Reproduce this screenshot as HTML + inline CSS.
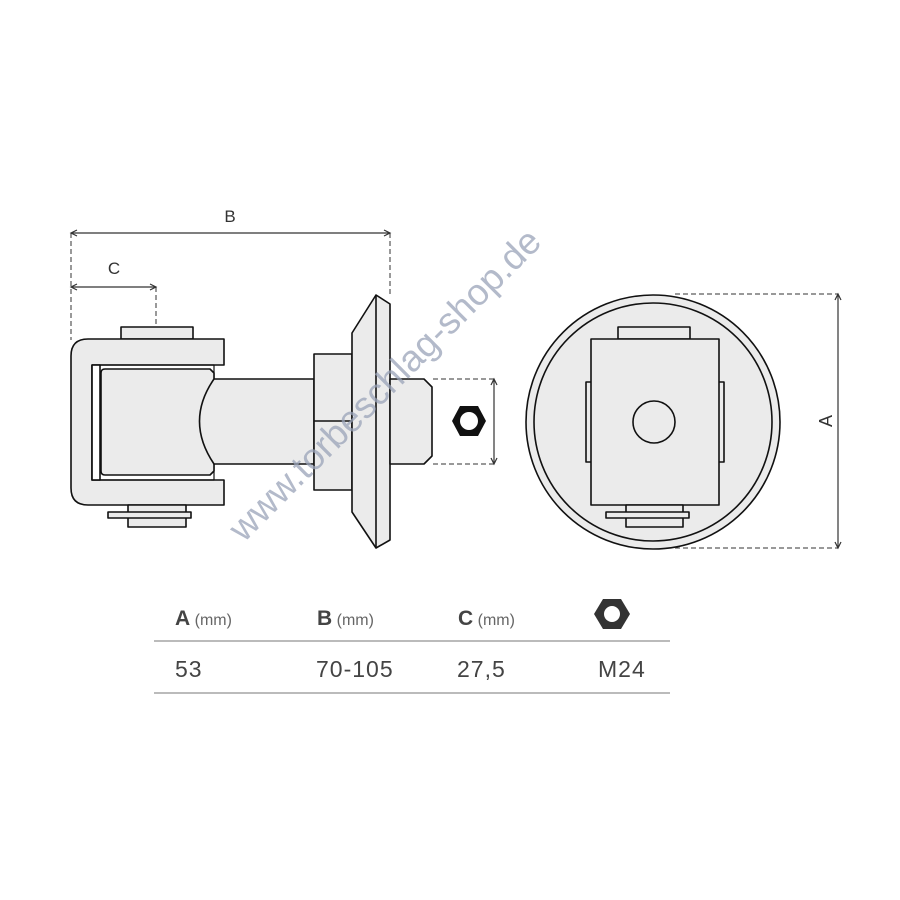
<!DOCTYPE html>
<html><head><meta charset="utf-8"><style>
html,body{margin:0;padding:0;background:#fff;}
svg{display:block;}
</style></head><body>
<svg width="900" height="900" viewBox="0 0 900 900" xmlns="http://www.w3.org/2000/svg" font-family="Liberation Sans, sans-serif">
<g stroke="#111" stroke-width="1.6" fill="#ebebeb" stroke-linejoin="round">
<rect x="121" y="327" width="72" height="12"/>
<path d="M224 339 H88 Q71 339 71 356 V488 Q71 505 88 505 H224 V480 H92 V365 H224 Z"/>
<rect x="92" y="365" width="8" height="115" fill="#fff"/>
<rect x="92" y="365" width="122" height="115" fill="none" stroke-width="1.2"/>
<path d="M101 373 Q101 369 105 369 H210 L214 373 V471 L210 475 H105 Q101 475 101 471 Z"/>
<path d="M214 379 H314 V464 H214 Q185 421 214 379 Z"/>
<rect x="128" y="505" width="58" height="22"/>
<rect x="108" y="512" width="83" height="6"/>
<rect x="314" y="354" width="38" height="136"/>
<line x1="314" y1="421" x2="352" y2="421"/>
<path d="M376 295 L390 304 V540 L376 548 L352 512 V333 Z"/>
<line x1="376" y1="295" x2="376" y2="548"/>
<path d="M390 379 H424 L432 387 V456 L424 464 H390 Z"/>
<circle cx="653" cy="422" r="127"/>
<circle cx="653" cy="422" r="119"/>
<rect x="618" y="327" width="72" height="12"/>
<rect x="586" y="382" width="6" height="80"/>
<rect x="718" y="382" width="6" height="80"/>
<rect x="591" y="339" width="128" height="166"/>
<circle cx="654" cy="422" r="21"/>
<rect x="626" y="505" width="57" height="22"/>
<rect x="606" y="512" width="83" height="6"/>
</g>
<polygon points="460,406 478,406 486,421 478,436 460,436 452,421" fill="#111"/>
<circle cx="469" cy="421" r="9" fill="#fff"/>
<g stroke="#333" stroke-width="1" fill="none" stroke-dasharray="5,3">
<line x1="71" y1="233" x2="71" y2="340"/>
<line x1="390" y1="233" x2="390" y2="296"/>
<line x1="156" y1="287" x2="156" y2="327"/>
<line x1="433" y1="379" x2="494" y2="379"/>
<line x1="433" y1="464" x2="494" y2="464"/>
<line x1="675" y1="294" x2="838" y2="294"/>
<line x1="675" y1="548" x2="838" y2="548"/>
</g>
<g stroke="#333" stroke-width="1.2" fill="none">
<line x1="72" y1="233" x2="389" y2="233"/>
<line x1="72" y1="287" x2="155" y2="287"/>
<line x1="494" y1="380" x2="494" y2="463"/>
<line x1="838" y1="295" x2="838" y2="547"/>
<path d="M77 230 L71 233 L77 236 M384 230 L390 233 L384 236 M77 284 L71 287 L77 290 M150 284 L156 287 L150 290 M491 385 L494 379 L497 385 M491 458 L494 464 L497 458 M835 300 L838 294 L841 300 M835 542 L838 548 L841 542"/>
</g>
<text x="230" y="222" font-size="17" fill="#333" text-anchor="middle">B</text>
<text x="114" y="274" font-size="17" fill="#333" text-anchor="middle">C</text>
<text x="826" y="421" font-size="18" fill="#333" text-anchor="middle" transform="rotate(-90 826 421)" dy="6">A</text>
<text x="385" y="385" font-size="37" fill="#9aa3b8" fill-opacity="0.75" text-anchor="middle" dy="12" transform="rotate(-45 385 385)">www.torbeschlag-shop.de</text>
<g fill="#444">
<text x="175" y="625" font-size="21" font-weight="bold">A<tspan font-weight="normal" font-size="16" fill="#666"> (mm)</tspan></text>
<text x="317" y="625" font-size="21" font-weight="bold">B<tspan font-weight="normal" font-size="16" fill="#666"> (mm)</tspan></text>
<text x="458" y="625" font-size="21" font-weight="bold">C<tspan font-weight="normal" font-size="16" fill="#666"> (mm)</tspan></text>
<text x="175" y="677" font-size="23" letter-spacing="1">53</text>
<text x="316" y="677" font-size="23" letter-spacing="1">70-105</text>
<text x="457" y="677" font-size="23" letter-spacing="1">27,5</text>
<text x="598" y="677" font-size="23" letter-spacing="1">M24</text>
</g>
<polygon points="603,599 621,599 630,614 621,629 603,629 594,614" fill="#333"/>
<circle cx="612" cy="614" r="8" fill="#fff"/>
<line x1="154" y1="641" x2="670" y2="641" stroke="#bbb" stroke-width="2"/>
<line x1="154" y1="693" x2="670" y2="693" stroke="#bbb" stroke-width="2"/>
</svg>
</body></html>
